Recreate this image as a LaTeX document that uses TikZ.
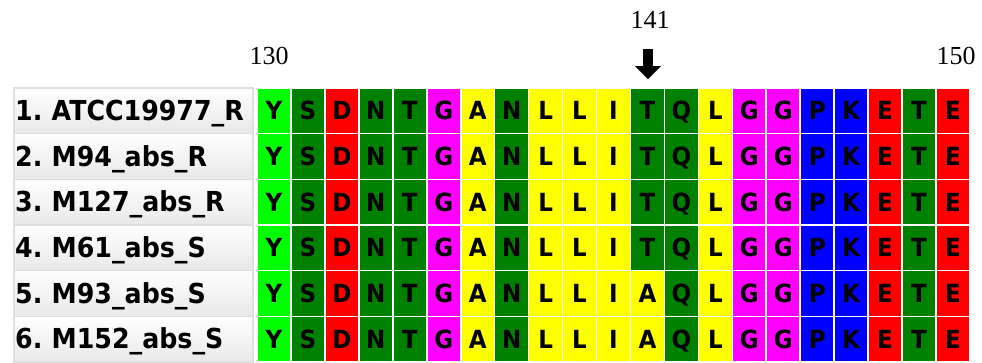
\documentclass[tikz,border=0pt]{standalone}
\usepackage{fontspec}
\usepackage{tikz}
\usetikzlibrary{arrows.meta, positioning}
\newfontfamily\labelfont{DejaVu Sans}[FakeStretch=0.92]
\newfontfamily\posfont{Liberation Serif}
\definecolor{aromatic}{HTML}{00FF00}
\definecolor{polar}{HTML}{008000}
\definecolor{acidic}{HTML}{FF0000}
\definecolor{glycine}{HTML}{FF00FF}
\definecolor{hydrophobic}{HTML}{FFFF00}
\definecolor{basic}{HTML}{0000FF}
\tikzset{
  aaY/.style={fill=aromatic},
  aaS/.style={fill=polar}, aaN/.style={fill=polar},
  aaT/.style={fill=polar}, aaQ/.style={fill=polar},
  aaD/.style={fill=acidic}, aaE/.style={fill=acidic},
  aaG/.style={fill=glycine},
  aaA/.style={fill=hydrophobic}, aaL/.style={fill=hydrophobic}, aaI/.style={fill=hydrophobic},
  aaP/.style={fill=basic}, aaK/.style={fill=basic}
}
\frenchspacing

\begin{document}
\begin{tikzpicture}[
  x=1pt, y=-1pt,
  residue/.style={
    rectangle, draw=white, line width=1.6pt,
    minimum width=33.95pt, minimum height=45.67pt, inner sep=0pt,
    text height=18pt, text depth=0pt,
    font=\labelfont\bfseries\fontsize{25}{25}\selectfont
  },
  seqname/.style={
    rectangle, draw=gray!25, line width=1.5pt, top color=white, bottom color=gray!18,
    minimum height=45.67pt, text width=236pt, inner xsep=1.5pt, anchor=west,
    text height=20pt, text depth=1pt,
    align=left, font=\labelfont\bfseries\fontsize{27.5}{28}\selectfont
  },
  posnum/.style={font=\posfont\fontsize{26}{26}\selectfont, inner sep=0pt},
  pointer/.style={line width=10pt, -{Triangle[length=13pt, width=25pt]}}
]
  \useasboundingbox (0,0) rectangle (982,362);

  % alignment rows
  \foreach \strain/\mut [count=\row] in {1. ATCC19977\_R/T, 2. M94\_abs\_R/T, 3. M127\_abs\_R/T,
      4. M61\_abs\_S/T, 5. M93\_abs\_S/A, 6. M152\_abs\_S/A}{
    \node[seqname] (name\row) at (13, 65.165+\row*45.67) {\strain};
    \foreach \res [count=\col] in {Y,S,D,N,T,G,A,N,L,L,I,\mut,Q,L,G,G,P,K,E,T,E}
      \node[residue, aa\res] (r\row c\col) at (240.025+\col*33.95, 65.165+\row*45.67) {\res};
  }

  % positions
  \node[posnum] (pos130) at (269,56) {130};
  \node[posnum] (pos141) at (650,20) {141};
  \node[posnum] (pos150) at (956,56) {150};

  \coordinate (mark141) at (648,49);
  \draw[pointer, shorten >=8pt] (mark141) -- (mark141 |- r1c12.north);
\end{tikzpicture}
\end{document}
